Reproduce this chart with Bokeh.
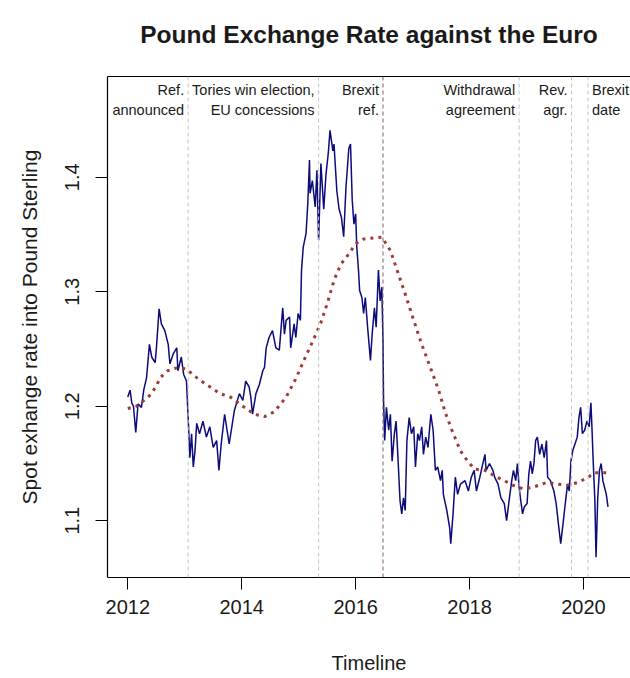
from bokeh.plotting import figure
from bokeh.models import Range1d, FixedTicker, LinearAxis, Span
from bokeh.core.properties import value
from bokeh.embed import file_html
from bokeh.resources import INLINE

# ---- data -------------------------------------------------------------
# GBP -> EUR spot rate, decimal years
rate_t = [
    2012.00, 2012.04, 2012.07, 2012.10, 2012.14, 2012.18, 2012.24, 2012.28, 2012.33, 2012.38,
    2012.42, 2012.48, 2012.50, 2012.55, 2012.59, 2012.65, 2012.71, 2012.74, 2012.80, 2012.86,
    2012.88, 2012.94, 2012.98, 2013.03, 2013.06, 2013.09, 2013.12, 2013.15, 2013.18, 2013.21,
    2013.26, 2013.32, 2013.38, 2013.44, 2013.50, 2013.56, 2013.60, 2013.64, 2013.70, 2013.78,
    2013.87, 2013.96, 2014.02, 2014.07, 2014.13, 2014.16, 2014.19, 2014.25, 2014.31, 2014.37,
    2014.40, 2014.43, 2014.48, 2014.54, 2014.60, 2014.66, 2014.72, 2014.75, 2014.78, 2014.84,
    2014.86, 2014.92, 2014.95, 2014.99, 2015.03, 2015.05, 2015.08, 2015.13, 2015.16, 2015.19,
    2015.20, 2015.24, 2015.29, 2015.32, 2015.35, 2015.39, 2015.44, 2015.48, 2015.52, 2015.55,
    2015.60, 2015.62, 2015.67, 2015.71, 2015.75, 2015.79, 2015.83, 2015.88, 2015.91, 2015.94,
    2015.97, 2016.00, 2016.02, 2016.05, 2016.07, 2016.11, 2016.14, 2016.17, 2016.21, 2016.26,
    2016.29, 2016.33, 2016.36, 2016.40, 2016.43, 2016.46, 2016.48, 2016.49, 2016.51, 2016.54,
    2016.58, 2016.61, 2016.64, 2016.68, 2016.71, 2016.74, 2016.78, 2016.81, 2016.84, 2016.87,
    2016.90, 2016.94, 2016.98, 2017.02, 2017.05, 2017.09, 2017.12, 2017.16, 2017.19, 2017.23,
    2017.27, 2017.32, 2017.36, 2017.40, 2017.44, 2017.49, 2017.52, 2017.54, 2017.60, 2017.65,
    2017.67, 2017.71, 2017.75, 2017.79, 2017.84, 2017.92, 2017.98, 2018.03, 2018.08, 2018.12,
    2018.18, 2018.22, 2018.27, 2018.29, 2018.35, 2018.41, 2018.44, 2018.50, 2018.55, 2018.61,
    2018.65, 2018.70, 2018.74, 2018.77, 2018.81, 2018.84, 2018.87, 2018.90, 2018.93, 2018.96,
    2019.01, 2019.04, 2019.07, 2019.10, 2019.13, 2019.16, 2019.19, 2019.23, 2019.27, 2019.31,
    2019.35, 2019.37, 2019.42, 2019.48, 2019.52, 2019.56, 2019.60, 2019.64, 2019.68, 2019.72,
    2019.75, 2019.78, 2019.81, 2019.85, 2019.89, 2019.92, 2019.95, 2019.98, 2020.02, 2020.06,
    2020.10, 2020.13, 2020.15, 2020.17, 2020.20, 2020.22, 2020.25, 2020.28, 2020.31, 2020.34,
    2020.37, 2020.40, 2020.43,
]
rate_v = [
    1.208, 1.214, 1.203, 1.200, 1.177, 1.202, 1.199, 1.214, 1.225, 1.254,
    1.243, 1.238, 1.249, 1.285, 1.272, 1.266, 1.254, 1.237, 1.246, 1.251,
    1.231, 1.243, 1.228, 1.222, 1.190, 1.155, 1.176, 1.147, 1.161, 1.185,
    1.176, 1.187, 1.173, 1.182, 1.164, 1.170, 1.144, 1.167, 1.193, 1.167,
    1.196, 1.211, 1.205, 1.222, 1.217, 1.208, 1.193, 1.211, 1.219, 1.231,
    1.234, 1.251, 1.260, 1.266, 1.251, 1.249, 1.286, 1.263, 1.275, 1.278,
    1.251, 1.272, 1.260, 1.281, 1.275, 1.319, 1.339, 1.351, 1.377, 1.415,
    1.386, 1.397, 1.374, 1.406, 1.345, 1.412, 1.372, 1.403, 1.421, 1.441,
    1.423, 1.429, 1.388, 1.372, 1.365, 1.348, 1.391, 1.425, 1.429, 1.380,
    1.359, 1.368, 1.339, 1.319, 1.301, 1.295, 1.281, 1.295, 1.269, 1.240,
    1.263, 1.286, 1.269, 1.319, 1.292, 1.304, 1.257, 1.205, 1.170, 1.199,
    1.179, 1.193, 1.152, 1.176, 1.187, 1.158, 1.117, 1.106, 1.120, 1.109,
    1.170, 1.190, 1.176, 1.182, 1.147, 1.176, 1.170, 1.182, 1.158, 1.173,
    1.164, 1.193, 1.179, 1.144, 1.147, 1.135, 1.144, 1.123, 1.109, 1.094,
    1.080, 1.106, 1.138, 1.123, 1.132, 1.135, 1.126, 1.138, 1.144, 1.126,
    1.138, 1.147, 1.158, 1.144, 1.150, 1.144, 1.138, 1.132, 1.120, 1.115,
    1.100, 1.120, 1.135, 1.144, 1.135, 1.150, 1.129, 1.117, 1.106, 1.112,
    1.115, 1.141, 1.152, 1.141, 1.150, 1.170, 1.173, 1.158, 1.167, 1.155,
    1.170, 1.138, 1.135, 1.126, 1.115, 1.097, 1.080, 1.097, 1.115, 1.132,
    1.126, 1.152, 1.161, 1.167, 1.173, 1.190, 1.199, 1.176, 1.179, 1.187,
    1.182, 1.203, 1.179, 1.152, 1.117, 1.068, 1.120, 1.144, 1.150, 1.135,
    1.129, 1.123, 1.112,
]

# smoothed trend of the same series
trend_t = [
    2012.00, 2012.15, 2012.36, 2012.49, 2012.57, 2012.70, 2012.86, 2013.03, 2013.18, 2013.32,
    2013.47, 2013.62, 2013.80, 2014.02, 2014.22, 2014.40, 2014.57, 2014.78, 2014.95, 2015.10,
    2015.24, 2015.39, 2015.51, 2015.62, 2015.74, 2015.88, 2016.00, 2016.14, 2016.32, 2016.46,
    2016.61, 2016.73, 2016.87, 2017.02, 2017.16, 2017.31, 2017.46, 2017.57, 2017.69, 2017.84,
    2017.98, 2018.09, 2018.27, 2018.44, 2018.61, 2018.76, 2018.93, 2019.10, 2019.36, 2019.53,
    2019.71, 2019.91, 2020.08, 2020.20, 2020.40,
]
trend_v = [
    1.198, 1.200, 1.208, 1.2165, 1.225, 1.231, 1.2335, 1.2326, 1.226, 1.221,
    1.216, 1.211, 1.208, 1.200, 1.193, 1.191, 1.195, 1.208, 1.224, 1.241,
    1.256, 1.273, 1.291, 1.310, 1.324, 1.333, 1.342, 1.346, 1.347, 1.3476,
    1.336, 1.3185, 1.298, 1.275, 1.254, 1.234, 1.2136, 1.195, 1.179, 1.161,
    1.151, 1.145, 1.144, 1.139, 1.135, 1.131, 1.128, 1.129, 1.1335, 1.132,
    1.131, 1.1335, 1.138, 1.142, 1.142,
]

# political events marked on the timeline
event_t = [2013.06, 2015.35, 2016.48, 2018.87, 2019.79, 2020.08]
event_line1 = ["Ref.", "Tories win election,", "Brexit", "Withdrawal", "Rev.", "Brexit"]
event_line2 = ["announced", "EU concessions", "ref.", "agreement", "agr.", "date"]
event_side = ["left", "left", "left", "left", "left", "right"]
event_key = [False, False, True, False, False, False]

x_ticks = [2012, 2014, 2016, 2018, 2020]
y_ticks = [1.1, 1.2, 1.3, 1.4]
chart_title = "Pound Exchange Rate against the Euro"

# ---- figure -----------------------------------------------------------
FONT = "Liberation Sans"
INK = "#1a1a1a"

p = figure(
    width=630, height=678, title=None,
    output_backend="svg", toolbar_location=None,
    x_range=Range1d(2011.644, 2020.825),
    y_range=Range1d(1.0504, 1.488),
    min_border_left=107, min_border_right=0,
    min_border_top=76, min_border_bottom=101,
)
p.background_fill_color = "white"
p.border_fill_color = "white"
p.outline_line_color = None
p.xgrid.visible = False
p.ygrid.visible = False

xax = p.below[0]
yax = p.left[0]

for ax in (xax, yax):
    ax.axis_line_color = "black"
    ax.axis_line_width = 1.2
    ax.major_tick_line_color = "black"
    ax.major_tick_out = 12
    ax.major_tick_in = 0
    ax.minor_tick_line_color = None
    ax.major_label_text_font = FONT
    ax.major_label_text_font_size = "20px"
    ax.major_label_text_color = INK
    ax.axis_label_text_font = FONT
    ax.axis_label_text_font_size = "20px"
    ax.axis_label_text_font_style = "normal"
    ax.axis_label_text_color = INK

xax.ticker = FixedTicker(ticks=x_ticks)
xax.major_label_overrides = {t: str(t) for t in x_ticks}
xax.major_label_standoff = 10
xax.axis_label = "Timeline"
xax.axis_label_standoff = 35

yax.ticker = FixedTicker(ticks=y_ticks)
yax.major_label_overrides = {t: f"{t:.1f}" for t in y_ticks}
yax.major_label_orientation = "vertical"
yax.major_label_standoff = 16
yax.axis_label = "Spot exhange rate into Pound Sterling"
yax.axis_label_text_font_size = "21px"
yax.axis_label_standoff = 22

# top edge of the frame, carrying the chart heading above it
top = LinearAxis(ticker=FixedTicker(ticks=[]), major_label_text_font_size="0px",
                 major_tick_out=0, major_tick_in=0, minor_tick_out=0, minor_tick_in=0,
                 major_label_standoff=0, minor_tick_line_color=None,
                 axis_line_color="black", axis_line_width=1.2,
                 axis_label=chart_title, axis_label_standoff=29,
                 axis_label_text_font=FONT, axis_label_text_font_size="24.5px",
                 axis_label_text_font_style="bold", axis_label_text_color=INK)
p.add_layout(top, "above")

# event markers
for t, key in zip(event_t, event_key):
    p.add_layout(Span(location=t, dimension="height",
                      line_color="#7d6262" if key else "#c6c6c6",
                      line_width=1, line_dash="4 3"))

# series
p.line(rate_t, rate_v, line_color="#0b0b7a", line_width=1.5)
p.line(trend_t, trend_v, line_color="#a13a36", line_width=3,
       line_dash="3 5", line_cap="butt")

# event captions (two lines, beside each marker)
LINE1_Y = 1.4763
LINE2_Y = 1.4588
for side, offset in (("left", -4), ("right", 4)):
    idx = [i for i, s in enumerate(event_side) if s == side]
    xs = [event_t[i] for i in idx]
    align = "right" if side == "left" else "left"
    for ys, texts in ((LINE1_Y, event_line1), (LINE2_Y, event_line2)):
        p.text(x=xs, y=[ys] * len(xs), text=[texts[i] for i in idx],
               text_align=align, text_baseline="alphabetic", x_offset=offset,
               text_font=value(FONT), text_font_size="14.5px", text_color=INK)

open("out.html", "w").write(file_html(p, INLINE))
